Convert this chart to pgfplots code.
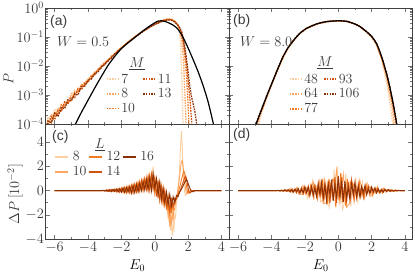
\documentclass[border=0pt]{standalone}
\usepackage{fontspec}
\usepackage{pgfplots}
\pgfplotsset{compat=1.18}
\newfontfamily\hv{Liberation Sans}
\definecolor{c1}{HTML}{FDCFA0}
\definecolor{c2}{HTML}{FDA662}
\definecolor{c3}{HTML}{F47A22}
\definecolor{c4}{HTML}{D0520C}
\definecolor{c5}{HTML}{8A3006}
\definecolor{txt}{HTML}{3A3A3A}
\pgfplotsset{
  panel/.style={scale only axis, width=183.5bp, xmin=-6.55, xmax=4.45,
    axis line style={black!75, line width=0.6pt},
    tick style={black!55, line width=0.5pt},
    tick align=inside, major tick length=4bp, minor tick length=2bp,
    xtick={-6,-4,-2,0,2,4}, minor xtick={-5,-3,-1,1,3},
    tick label style={text=txt},
    yticklabel style={inner xsep=1.5bp},
    legend cell align=left,
  },
  toppanel/.style={panel, height=116bp, ymin=-4, ymax=0, ytick={-4,-3,-2,-1,0},
    minor ytick={-3.699,-3.523,-3.398,-3.301,-3.222,-3.155,-3.097,-3.046,
                 -2.699,-2.523,-2.398,-2.301,-2.222,-2.155,-2.097,-2.046,
                 -1.699,-1.523,-1.398,-1.301,-1.222,-1.155,-1.097,-1.046,
                 -0.699,-0.523,-0.398,-0.301,-0.222,-0.155,-0.097,-0.046},
    xticklabels={}},
  botpanel/.style={panel, height=115bp, ymin=-4, ymax=5.5, ytick={-4,-2,0,2,4},
    minor ytick={-3,-1,1,3}, xlabel={$E_0$}},
  oline/.style={line width=1.3pt, dash pattern=on 1.6bp off 1.1bp},
  sline/.style={line width=0.9pt},
}
\begin{document}
\begin{tikzpicture}[font=\fontsize{14}{17}\selectfont]
% ---------------- (a)
\begin{axis}[toppanel, at={(45.5bp,-8bp)}, anchor=north west,
  yticklabels={$10^{-4}$,$10^{-3}$,$10^{-2}$,$10^{-1}$,$10^{0}$},
  legend columns=2,
  legend style={at={(axis cs:-3.11,-2.12)}, anchor=north west, draw=none, fill=none,
    inner xsep=3pt, inner ysep=2pt, nodes={inner xsep=1bp, text=txt},
    /tikz/every even column/.append style={column sep=6.5bp}},
  legend image code/.code={\draw[#1] (0bp,0bp) -- (11bp,0bp); \path (13bp,0bp);},
]
\addplot[c1, oline, forget plot] coordinates {(-6.5,-4.1)(-6.4,-3.75)(-6.2,-3.87)(-6.0,-3.49)(-5.8,-3.57)(-5.6,-3.35)(-5.4,-3.42)(-5.2,-3.08)(-5.0,-3.07)(-4.8,-2.82)(-4.6,-2.9)(-4.4,-2.64)(-4.2,-2.61)(-4.0,-2.41)(-3.8,-2.38)(-3.6,-2.19)(-3.4,-2.17)(-3.2,-1.98)(-3.0,-1.86)(-2.8,-1.81)(-2.6,-1.64)(-2.4,-1.59)(-2.2,-1.44)(-2.0,-1.37)(-1.8,-1.27)(-1.6,-1.17)(-1.4,-1.08)(-1.2,-0.99)(-1.0,-0.91)(-0.8,-0.83)(-0.6,-0.75)(-0.4,-0.68)(-0.2,-0.6)(0,-0.54)(0.2,-0.48)(0.4,-0.43)(0.6,-0.39)(0.8,-0.37)(1.0,-0.38)(1.2,-0.45)(1.4,-0.6)(1.5,-0.9)(1.55,-1.3)(1.6,-2.0)(1.65,-3.0)(1.7,-4.3)};
\addplot[c2, oline, forget plot] coordinates {(-6.5,-4.2)(-6.4,-4.02)(-6.2,-3.67)(-6.0,-3.75)(-5.8,-3.45)(-5.6,-3.55)(-5.4,-3.25)(-5.2,-3.29)(-5.0,-2.95)(-4.8,-3.01)(-4.6,-2.76)(-4.4,-2.79)(-4.2,-2.54)(-4.0,-2.52)(-3.8,-2.32)(-3.6,-2.29)(-3.4,-2.1)(-3.2,-2.04)(-3.0,-1.87)(-2.8,-1.81)(-2.6,-1.66)(-2.4,-1.6)(-2.2,-1.46)(-2.0,-1.37)(-1.8,-1.27)(-1.6,-1.17)(-1.4,-1.09)(-1.2,-0.99)(-1.0,-0.92)(-0.8,-0.83)(-0.6,-0.76)(-0.4,-0.68)(-0.2,-0.61)(0,-0.55)(0.2,-0.49)(0.4,-0.44)(0.6,-0.4)(0.8,-0.38)(1.0,-0.39)(1.2,-0.46)(1.4,-0.6)(1.5,-0.75)(1.6,-1.05)(1.7,-1.6)(1.75,-2.2)(1.8,-2.9)(1.85,-3.6)(1.9,-4.3)};
\addplot[c3, oline, forget plot] coordinates {(-6.5,-4.1)(-6.4,-3.88)(-6.2,-3.97)(-6.0,-3.61)(-5.8,-3.68)(-5.6,-3.33)(-5.4,-3.41)(-5.2,-3.19)(-5.0,-3.22)(-4.8,-2.9)(-4.6,-2.91)(-4.4,-2.64)(-4.2,-2.67)(-4.0,-2.47)(-3.8,-2.43)(-3.6,-2.22)(-3.4,-2.17)(-3.2,-1.99)(-3.0,-1.94)(-2.8,-1.78)(-2.6,-1.72)(-2.4,-1.57)(-2.2,-1.49)(-2.0,-1.38)(-1.8,-1.28)(-1.6,-1.18)(-1.4,-1.09)(-1.2,-1.0)(-1.0,-0.92)(-0.8,-0.84)(-0.6,-0.76)(-0.4,-0.69)(-0.2,-0.62)(0,-0.56)(0.2,-0.5)(0.4,-0.45)(0.6,-0.41)(0.8,-0.39)(1.0,-0.4)(1.2,-0.47)(1.4,-0.6)(1.5,-0.72)(1.6,-0.9)(1.7,-1.2)(1.8,-1.65)(1.9,-2.3)(1.95,-2.8)(2.0,-3.4)(2.05,-4.0)(2.1,-4.5)};
\addplot[c4, oline, forget plot] coordinates {(-6.5,-4.3)(-6.4,-4.05)(-6.2,-3.75)(-6.0,-3.85)(-5.8,-3.54)(-5.6,-3.57)(-5.4,-3.24)(-5.2,-3.31)(-5.0,-3.07)(-4.8,-3.1)(-4.6,-2.79)(-4.4,-2.82)(-4.2,-2.6)(-4.0,-2.57)(-3.8,-2.35)(-3.6,-2.31)(-3.4,-2.12)(-3.2,-2.07)(-3.0,-1.9)(-2.8,-1.84)(-2.6,-1.68)(-2.4,-1.6)(-2.2,-1.47)(-2.0,-1.38)(-1.8,-1.28)(-1.6,-1.18)(-1.4,-1.09)(-1.2,-1.0)(-1.0,-0.92)(-0.8,-0.84)(-0.6,-0.76)(-0.4,-0.69)(-0.2,-0.62)(0,-0.56)(0.2,-0.51)(0.4,-0.46)(0.6,-0.42)(0.8,-0.4)(1.0,-0.41)(1.2,-0.47)(1.4,-0.6)(1.5,-0.7)(1.6,-0.85)(1.7,-1.1)(1.8,-1.45)(1.9,-1.9)(2.0,-2.5)(2.1,-3.1)(2.2,-3.8)(2.25,-4.3)};
\addplot[c5, oline, forget plot] coordinates {(-6.5,-4.2)(-6.4,-3.9)(-6.2,-3.95)(-6.0,-3.63)(-5.8,-3.74)(-5.6,-3.43)(-5.4,-3.47)(-5.2,-3.16)(-5.0,-3.19)(-4.8,-2.96)(-4.6,-3.0)(-4.4,-2.71)(-4.2,-2.7)(-4.0,-2.49)(-3.8,-2.45)(-3.6,-2.26)(-3.4,-2.21)(-3.2,-2.02)(-3.0,-1.96)(-2.8,-1.8)(-2.6,-1.73)(-2.4,-1.58)(-2.2,-1.5)(-2.0,-1.39)(-1.8,-1.29)(-1.6,-1.19)(-1.4,-1.1)(-1.2,-1.01)(-1.0,-0.93)(-0.8,-0.85)(-0.6,-0.77)(-0.4,-0.7)(-0.2,-0.63)(0,-0.57)(0.2,-0.52)(0.4,-0.47)(0.6,-0.43)(0.8,-0.41)(1.0,-0.42)(1.2,-0.48)(1.4,-0.6)(1.5,-0.68)(1.6,-0.8)(1.7,-1.0)(1.8,-1.35)(1.9,-1.75)(2.0,-2.2)(2.1,-2.7)(2.2,-3.05)(2.3,-3.3)(2.4,-3.55)(2.5,-3.95)(2.55,-4.2)};
\addplot[black, line width=1.2pt, smooth, forget plot] coordinates {(-5.0,-4.3)(-4.75,-4.0)(-4.4,-3.6)(-4.0,-3.18)(-3.6,-2.76)(-3.2,-2.36)(-2.8,-1.98)(-2.4,-1.67)(-2.0,-1.40)(-1.6,-1.2)(-1.2,-1.02)(-0.8,-0.83)(-0.4,-0.66)(0.0,-0.51)(0.2,-0.45)(0.4,-0.44)(0.7,-0.48)(1.1,-0.59)(1.4,-0.74)(1.7,-1.02)(2.0,-1.38)(2.3,-1.78)(2.6,-2.2)(2.9,-2.68)(3.2,-3.24)(3.5,-3.96)(3.6,-4.2)};
\addlegendimage{c1, oline}\addlegendentry{7}
\addlegendimage{c4, oline}\addlegendentry{11}
\addlegendimage{c2, oline}\addlegendentry{8}
\addlegendimage{c5, oline}\addlegendentry{13}
\addlegendimage{c3, oline}\addlegendentry{10}
\end{axis}
% ---------------- (b)
\begin{axis}[toppanel, at={(229bp,-8bp)}, anchor=north west,
  yticklabels={},
  legend columns=2,
  legend style={at={(axis cs:-3.14,-2.12)}, anchor=north west, draw=none, fill=none,
    inner xsep=3pt, inner ysep=2pt, nodes={inner xsep=1bp, text=txt},
    /tikz/every even column/.append style={column sep=4.5bp}},
  legend image code/.code={\draw[#1] (0bp,0bp) -- (11bp,0bp); \path (13bp,0bp);},
]
\addplot[c1, oline, forget plot] coordinates {(-4.8,-4.3)(-4.75,-3.98)(-4.6,-3.62)(-4.4,-3.28)(-4.2,-2.97)(-4.0,-2.66)(-3.8,-2.37)(-3.6,-2.1)(-3.3,-1.71)(-3.0,-1.38)(-2.6,-1.07)(-2.3,-0.88)(-1.9,-0.7)(-1.3,-0.55)(-0.7,-0.47)(0,-0.44)(0.5,-0.46)(1.0,-0.55)(1.3,-0.64)(1.7,-0.83)(2.0,-1.0)(2.3,-1.28)(2.6,-1.8)(2.8,-2.3)(2.95,-2.72)(3.05,-3.1)(3.15,-3.52)(3.25,-3.9)(3.3,-4.3)};
\addplot[c2, oline, forget plot] coordinates {(-4.9,-4.3)(-4.85,-4.05)(-4.7,-3.72)(-4.5,-3.38)(-4.3,-3.1)(-4.1,-2.78)(-3.9,-2.5)(-3.6,-2.08)(-3.3,-1.68)(-3.0,-1.37)(-2.6,-1.06)(-2.3,-0.87)(-1.9,-0.7)(-1.3,-0.55)(-0.7,-0.47)(0,-0.44)(0.5,-0.46)(1.0,-0.55)(1.3,-0.64)(1.7,-0.82)(2.0,-0.99)(2.3,-1.26)(2.6,-1.74)(2.9,-2.4)(3.05,-2.85)(3.2,-3.3)(3.3,-3.72)(3.38,-4.3)};
\addplot[c3, oline, forget plot] coordinates {(-4.95,-4.3)(-4.9,-4.02)(-4.7,-3.66)(-4.5,-3.42)(-4.3,-3.02)(-4.0,-2.64)(-3.6,-2.07)(-3.3,-1.67)(-3.0,-1.36)(-2.6,-1.06)(-2.3,-0.87)(-1.9,-0.7)(-1.3,-0.55)(-0.7,-0.47)(0,-0.44)(0.5,-0.46)(1.0,-0.55)(1.3,-0.64)(1.7,-0.82)(2.0,-0.98)(2.3,-1.24)(2.6,-1.71)(2.9,-2.32)(3.1,-2.85)(3.25,-3.3)(3.35,-3.62)(3.45,-4.0)(3.5,-4.3)};
\addplot[c4, oline, forget plot] coordinates {(-5.0,-4.3)(-4.95,-4.1)(-4.8,-3.8)(-4.6,-3.55)(-4.3,-3.05)(-4.0,-2.62)(-3.6,-2.06)(-3.3,-1.67)(-3.0,-1.36)(-2.6,-1.06)(-2.3,-0.87)(-1.9,-0.7)(-1.3,-0.55)(-0.7,-0.47)(0,-0.44)(0.5,-0.46)(1.0,-0.55)(1.3,-0.64)(1.7,-0.82)(2.0,-0.98)(2.3,-1.23)(2.6,-1.69)(2.9,-2.28)(3.1,-2.78)(3.3,-3.35)(3.45,-3.8)(3.52,-4.3)};
\addplot[c5, oline, forget plot] coordinates {(-5.05,-4.3)(-5.0,-4.15)(-4.85,-3.85)(-4.6,-3.48)(-4.3,-3.06)(-4.0,-2.63)(-3.6,-2.06)(-3.3,-1.67)(-3.0,-1.36)(-2.6,-1.06)(-2.3,-0.87)(-1.9,-0.7)(-1.3,-0.55)(-0.7,-0.47)(0,-0.44)(0.5,-0.46)(1.0,-0.55)(1.3,-0.64)(1.7,-0.82)(2.0,-0.98)(2.3,-1.23)(2.6,-1.68)(2.9,-2.27)(3.1,-2.75)(3.3,-3.32)(3.5,-3.98)(3.56,-4.3)};
\addplot[black, line width=1.2pt, smooth, forget plot] coordinates {(-5.0,-4.15)(-4.9,-3.97)(-4.6,-3.5)(-4.3,-3.05)(-4.0,-2.62)(-3.6,-2.06)(-3.3,-1.67)(-3.0,-1.36)(-2.6,-1.06)(-2.3,-0.87)(-1.9,-0.7)(-1.3,-0.55)(-0.7,-0.47)(0.0,-0.44)(0.5,-0.46)(1.0,-0.55)(1.3,-0.64)(1.7,-0.82)(2.0,-0.98)(2.3,-1.23)(2.6,-1.68)(2.9,-2.27)(3.1,-2.75)(3.3,-3.32)(3.5,-3.98)(3.55,-4.2)};
\addlegendimage{c1, oline}\addlegendentry{48}
\addlegendimage{c4, oline}\addlegendentry{93}
\addlegendimage{c2, oline}\addlegendentry{64}
\addlegendimage{c5, oline}\addlegendentry{106}
\addlegendimage{c3, oline}\addlegendentry{77}
\end{axis}
% ---------------- (c)
\begin{axis}[botpanel, at={(45.5bp,-124bp)}, anchor=north west,
  yticklabels={$-4$,$-2$,$0$,$2$,$4$},
  legend columns=3,
  legend style={at={(axis cs:-6.22,3.57)}, anchor=north west, draw=none, fill=none,
    inner xsep=3pt, inner ysep=2pt, nodes={inner xsep=1bp, text=txt},
    /tikz/every even column/.append style={column sep=0.5bp}},
  legend image code/.code={\draw[#1] (0bp,0bp) -- (13bp,0bp); \path (16bp,0bp);},
]
\addplot[c1, sline, forget plot] coordinates {(-6.0,0)(-3.0,0)(-2.9,0.05)(-2.8,-0.06)(-2.7,0.1)(-2.6,-0.05)(-2.5,0.12)(-2.4,-0.1)(-2.3,0.15)(-2.2,-0.08)(-2.1,0.2)(-2.0,-0.12)(-1.9,0.25)(-1.8,-0.1)(-1.7,0.3)(-1.6,-0.2)(-1.5,0.4)(-1.4,-0.15)(-1.3,0.5)(-1.2,-0.1)(-1.1,0.6)(-1.0,0.0)(-0.9,0.8)(-0.8,0.1)(-0.7,0.9)(-0.6,0.2)(-0.5,1.1)(-0.4,0.1)(-0.3,1.3)(-0.2,0.3)(-0.1,2.0)(0.0,-0.3)(0.1,1.2)(0.2,-0.5)(0.3,0.8)(0.4,-0.9)(0.5,0.3)(0.6,-1.4)(0.7,-0.2)(0.75,-1.8)(0.8,-1.0)(0.85,-2.6)(0.9,-1.8)(0.95,-3.3)(1.0,-2.6)(1.05,-3.7)(1.1,-2.8)(1.15,-3.2)(1.2,-2.0)(1.25,-2.2)(1.3,-1.0)(1.35,-0.6)(1.4,0.2)(1.45,1.0)(1.5,2.2)(1.55,3.8)(1.6,4.9)(1.65,3.6)(1.7,1.6)(1.75,0.4)(1.8,-0.2)(1.85,-0.4)(1.9,-0.3)(2.0,-0.1)(2.1,0)(4.0,0)};
\addplot[c2, sline, forget plot] coordinates {(-6.0,0)(-3.0,0)(-2.9,-0.04)(-2.8,0.08)(-2.7,-0.05)(-2.6,0.1)(-2.5,-0.08)(-2.4,0.12)(-2.3,-0.1)(-2.2,0.16)(-2.1,-0.08)(-2.0,0.22)(-1.9,-0.15)(-1.8,0.28)(-1.7,-0.1)(-1.6,0.35)(-1.5,-0.2)(-1.4,0.45)(-1.3,-0.15)(-1.2,0.55)(-1.1,-0.1)(-1.0,0.7)(-0.9,0.0)(-0.8,0.85)(-0.7,0.1)(-0.6,1.0)(-0.5,0.2)(-0.4,1.2)(-0.3,0.1)(-0.2,1.4)(-0.1,0.2)(0.0,1.1)(0.1,-0.4)(0.2,0.9)(0.3,-0.7)(0.4,0.4)(0.5,-1.1)(0.6,0.0)(0.7,-1.6)(0.75,-0.8)(0.8,-2.3)(0.85,-1.5)(0.9,-3.0)(0.95,-2.0)(1.0,-2.8)(1.05,-1.9)(1.1,-2.4)(1.15,-1.5)(1.2,-1.6)(1.25,-0.9)(1.3,-0.7)(1.35,-0.2)(1.4,0.2)(1.45,0.7)(1.5,1.3)(1.55,1.9)(1.6,2.4)(1.65,2.5)(1.7,2.0)(1.75,1.3)(1.8,0.6)(1.85,0.1)(1.9,-0.2)(1.95,-0.25)(2.0,-0.15)(2.1,0)(4.0,0)};
\addplot[c3, sline, forget plot] coordinates {(-6.0,0)(-3.0,0)(-2.9,0.04)(-2.8,-0.07)(-2.7,0.06)(-2.6,-0.1)(-2.5,0.1)(-2.4,-0.06)(-2.3,0.14)(-2.2,-0.12)(-2.1,0.18)(-2.0,-0.1)(-1.9,0.25)(-1.8,-0.18)(-1.7,0.3)(-1.6,-0.12)(-1.5,0.38)(-1.4,-0.2)(-1.3,0.5)(-1.2,-0.15)(-1.1,0.6)(-1.0,-0.05)(-0.9,0.75)(-0.8,0.05)(-0.7,0.9)(-0.6,0.15)(-0.5,1.05)(-0.4,0.0)(-0.3,1.25)(-0.2,0.2)(-0.1,1.3)(0.0,-0.2)(0.1,1.0)(0.2,-0.6)(0.3,0.6)(0.4,-0.9)(0.5,0.2)(0.6,-1.2)(0.7,-0.3)(0.8,-1.7)(0.85,-0.8)(0.9,-2.1)(0.95,-1.2)(1.0,-1.9)(1.05,-1.0)(1.1,-1.6)(1.2,-1.0)(1.3,-0.6)(1.4,-0.2)(1.5,0.3)(1.6,0.9)(1.7,1.4)(1.75,1.6)(1.8,1.4)(1.85,0.9)(1.9,0.4)(1.95,0.0)(2.0,-0.2)(2.1,-0.15)(2.2,0)(4.0,0)};
\addplot[c4, sline, forget plot] coordinates {(-6.0,0)(-3.0,0)(-2.9,-0.05)(-2.8,0.06)(-2.7,-0.08)(-2.6,0.09)(-2.5,-0.06)(-2.4,0.12)(-2.3,-0.1)(-2.2,0.15)(-2.1,-0.14)(-2.0,0.2)(-1.9,-0.12)(-1.8,0.26)(-1.7,-0.2)(-1.6,0.32)(-1.5,-0.15)(-1.4,0.42)(-1.3,-0.2)(-1.2,0.5)(-1.1,-0.1)(-1.0,0.62)(-0.9,-0.05)(-0.8,0.8)(-0.7,0.0)(-0.6,0.95)(-0.5,0.1)(-0.4,1.15)(-0.3,0.05)(-0.2,1.3)(-0.1,0.1)(0.0,1.0)(0.1,-0.5)(0.2,0.8)(0.3,-0.8)(0.4,0.3)(0.5,-1.0)(0.6,0.0)(0.7,-1.3)(0.8,-0.4)(0.9,-1.6)(1.0,-0.7)(1.1,-1.3)(1.2,-0.6)(1.3,-0.7)(1.4,-0.3)(1.5,-0.1)(1.6,0.3)(1.7,0.7)(1.8,1.1)(1.85,1.2)(1.9,1.0)(1.95,0.6)(2.0,0.2)(2.05,-0.1)(2.1,-0.2)(2.2,-0.1)(2.3,0)(4.0,0)};
\addplot[c5, sline, forget plot] coordinates {(-6.0,0)(-3.2,0)(-3.1,0.03)(-3.0,-0.04)(-2.9,0.05)(-2.8,-0.06)(-2.7,0.07)(-2.6,-0.08)(-2.5,0.09)(-2.4,-0.07)(-2.3,0.12)(-2.2,-0.1)(-2.1,0.15)(-2.0,-0.13)(-1.9,0.2)(-1.8,-0.15)(-1.7,0.25)(-1.6,-0.1)(-1.5,0.3)(-1.4,-0.2)(-1.3,0.4)(-1.2,-0.15)(-1.1,0.5)(-1.0,-0.1)(-0.9,0.6)(-0.8,0.0)(-0.7,0.75)(-0.6,0.05)(-0.5,0.9)(-0.4,0.1)(-0.3,1.1)(-0.2,0.0)(-0.1,1.4)(0.0,0.2)(0.1,1.0)(0.2,-0.4)(0.3,0.7)(0.4,-0.7)(0.5,0.2)(0.6,-1.0)(0.7,-0.1)(0.8,-1.2)(0.9,-0.3)(1.0,-1.3)(1.1,-0.5)(1.2,-1.0)(1.3,-0.4)(1.4,-0.5)(1.5,-0.1)(1.6,0.1)(1.7,0.4)(1.8,0.7)(1.9,0.9)(1.95,0.8)(2.0,0.6)(2.1,0.2)(2.2,-0.05)(2.3,-0.1)(2.4,0)(4.0,0)};
\addlegendimage{c1, sline, line width=1.6pt}\addlegendentry{8}
\addlegendimage{c3, sline, line width=1.6pt}\addlegendentry{12}
\addlegendimage{c5, sline, line width=1.6pt}\addlegendentry{16}
\addlegendimage{c2, sline, line width=1.6pt}\addlegendentry{10}
\addlegendimage{c4, sline, line width=1.6pt}\addlegendentry{14}
\end{axis}
% ---------------- (d)
\begin{axis}[botpanel, at={(229bp,-124bp)}, anchor=north west, yticklabels={}]
\addplot[c1, sline] coordinates {(-6,0)(-3.65,0)(-3.55,-0.03)(-3.45,0.05)(-3.35,-0.02)(-3.25,0.05)(-3.15,-0.1)(-3.05,0.05)(-2.95,-0.07)(-2.85,0.18)(-2.75,-0.17)(-2.65,0.05)(-2.55,-0.16)(-2.45,0.24)(-2.35,-0.3)(-2.25,-0.26)(-2.15,0.38)(-2.05,-0.14)(-1.95,0.3)(-1.85,-0.56)(-1.75,0.25)(-1.65,-0.34)(-1.55,0.75)(-1.45,-0.65)(-1.35,0.17)(-1.25,-0.56)(-1.15,0.8)(-1.05,-0.97)(-0.95,-0.81)(-0.85,1.12)(-0.75,-0.4)(-0.65,0.84)(-0.55,-1.48)(-0.45,0.62)(-0.35,-0.82)(-0.25,1.72)(-0.15,-1.44)(-0.05,2.0)(0.05,-1.13)(0.15,1.44)(0.25,-1.55)(0.35,-1.15)(0.45,1.4)(0.55,-0.44)(0.65,0.84)(0.75,-1.32)(0.85,0.5)(0.95,-0.58)(1.05,1.08)(1.15,-0.8)(1.25,0.19)(1.35,-0.52)(1.45,0.65)(1.55,-0.68)(1.65,-0.48)(1.75,0.56)(1.85,-0.17)(1.95,0.3)(2.05,-0.46)(2.15,0.17)(2.25,-0.19)(2.35,0.34)(2.45,-0.24)(2.55,0.05)(2.65,-0.14)(2.75,0.17)(2.85,-0.16)(2.95,-0.1)(3.05,0.11)(3.15,-0.03)(3.25,0.05)(3.35,-0.07)(3.45,0.02)(3.55,-0.02)(3.65,0)(4,0)};
\addplot[c2, sline] coordinates {(-6,0)(-3.7,0)(-3.5,-0.03)(-3.3,0.04)(-3.1,-0.03)(-2.9,0.15)(-2.7,-0.12)(-2.5,0.23)(-2.3,-0.32)(-2.1,-0.32)(-1.9,0.24)(-1.7,-0.18)(-1.5,0.71)(-1.3,-0.49)(-1.1,0.85)(-0.9,-1.09)(-0.7,-0.99)(-0.5,0.69)(-0.3,-0.46)(-0.1,1.67)(0.1,-1.0)(0.3,1.37)(0.5,-1.38)(0.7,-0.99)(0.9,0.54)(1.1,-0.28)(1.3,0.81)(1.5,-0.43)(1.7,0.54)(1.9,-0.48)(2.1,-0.32)(2.3,0.16)(2.5,-0.08)(2.7,0.2)(2.9,-0.09)(3.1,0.09)(3.3,-0.07)(3.5,-0.03)(3.7,0)(4,0)};
\addplot[c3, sline] coordinates {(-6,0)(-3.65,0)(-3.55,0.02)(-3.45,-0.04)(-3.35,0.02)(-3.25,-0.04)(-3.15,0.08)(-3.05,-0.07)(-2.95,0.02)(-2.85,-0.14)(-2.75,0.14)(-2.65,-0.06)(-2.55,0.15)(-2.45,0.15)(-2.35,-0.25)(-2.25,0.12)(-2.15,-0.17)(-2.05,0.38)(-1.95,-0.29)(-1.85,0.09)(-1.75,-0.51)(-1.65,0.45)(-1.55,-0.18)(-1.45,0.46)(-1.35,0.42)(-1.25,-0.68)(-1.15,0.33)(-1.05,-0.44)(-0.95,0.94)(-0.85,-0.71)(-0.75,0.21)(-0.65,-1.14)(-0.55,0.96)(-0.45,-0.38)(-0.35,0.93)(-0.25,0.84)(-0.15,-1.32)(-0.05,0.61)(0.05,-0.76)(0.15,1.46)(0.25,-0.98)(0.35,0.27)(0.45,-1.27)(0.55,0.96)(0.65,-0.34)(0.75,0.75)(0.85,0.6)(0.95,-0.85)(1.05,0.35)(1.15,-0.41)(1.25,0.75)(1.35,-0.49)(1.45,0.13)(1.55,-0.61)(1.65,0.45)(1.75,-0.15)(1.85,0.32)(1.95,0.25)(2.05,-0.34)(2.15,0.14)(2.25,-0.15)(2.35,0.27)(2.45,-0.17)(2.55,0.04)(2.65,-0.2)(2.75,0.14)(2.85,-0.04)(2.95,0.08)(3.05,0.06)(3.15,-0.08)(3.25,0.03)(3.35,-0.03)(3.45,0.05)(3.55,-0.02)(3.65,0)(4,0)};
\addplot[c4, sline] coordinates {(-6,0)(-3.7,0)(-3.6,0.01)(-3.5,-0.03)(-3.4,0.03)(-3.3,-0.03)(-3.2,0.07)(-3.1,-0.05)(-3.0,0.03)(-2.9,-0.1)(-2.8,0.11)(-2.7,-0.06)(-2.6,0.11)(-2.5,-0.2)(-2.4,0.11)(-2.3,-0.17)(-2.2,0.25)(-2.1,-0.25)(-2.0,0.2)(-1.9,-0.11)(-1.8,0.37)(-1.7,-0.32)(-1.6,0.2)(-1.5,-0.54)(-1.4,0.4)(-1.3,-0.31)(-1.2,0.66)(-1.1,-0.43)(-1.0,0.23)(-0.9,-0.74)(-0.8,0.7)(-0.7,-0.37)(-0.6,0.59)(-0.5,-1.05)(-0.4,0.55)(-0.3,-0.81)(-0.2,1.09)(-0.1,-1.01)(0,0.79)(0.1,-0.38)(0.2,1.09)(0.3,-0.81)(0.4,0.44)(0.5,-1.05)(0.6,0.69)(0.7,-0.47)(0.8,0.88)(0.9,-0.5)(1.0,0.23)(1.1,-0.64)(1.2,0.53)(1.3,-0.25)(1.4,0.34)(1.5,-0.54)(1.6,0.25)(1.7,-0.32)(1.8,0.37)(1.9,-0.29)(2.0,0.2)(2.1,-0.09)(2.2,0.25)(2.3,-0.17)(2.4,0.09)(2.5,-0.2)(2.6,0.12)(2.7,-0.08)(2.8,0.13)(2.9,-0.07)(3.0,0.03)(3.1,-0.07)(3.2,0.05)(3.3,-0.02)(3.4,0.03)(3.5,-0.03)(3.6,0.01)(3.7,0)(4,0)};
\addplot[c5, sline] coordinates {(-6,0)(-3.7,0)(-3.6,0.02)(-3.5,-0.02)(-3.4,0.01)(-3.3,-0.05)(-3.2,0.04)(-3.1,-0.03)(-3.0,0.08)(-2.9,-0.07)(-2.8,0.06)(-2.7,-0.14)(-2.6,0.1)(-2.5,-0.05)(-2.4,0.18)(-2.3,-0.18)(-2.2,0.1)(-2.1,-0.17)(-2.0,0.3)(-1.9,-0.17)(-1.8,0.26)(-1.7,-0.37)(-1.6,0.36)(-1.5,-0.29)(-1.4,0.16)(-1.3,-0.5)(-1.2,0.42)(-1.1,-0.26)(-1.0,0.7)(-0.9,-0.53)(-0.8,0.4)(-0.7,-0.85)(-0.6,0.54)(-0.5,-0.29)(-0.4,0.9)(-0.3,-0.84)(-0.2,0.44)(-0.1,-0.69)(0,1.2)(0.1,-0.58)(0.2,0.77)(0.3,-0.95)(0.4,0.8)(0.5,-0.57)(0.6,0.27)(0.7,-0.77)(0.8,0.56)(0.9,-0.3)(1.0,0.7)(1.1,-0.46)(1.2,0.3)(1.3,-0.56)(1.4,0.31)(1.5,-0.15)(1.6,0.41)(1.7,-0.33)(1.8,0.15)(1.9,-0.2)(2.0,0.3)(2.1,-0.14)(2.2,0.18)(2.3,-0.2)(2.4,0.16)(2.5,-0.11)(2.6,0.05)(2.7,-0.13)(2.8,0.08)(2.9,-0.04)(3.0,0.08)(3.1,-0.05)(3.2,0.03)(3.3,-0.05)(3.4,0.02)(3.5,-0.01)(3.6,0.02)(3.7,0)(4,0)};
\end{axis}
% ---------------- annotations
\begin{scope}[every node/.style={inner sep=0pt, text=txt}]
\node[anchor=west] at (50bp,-22bp) {\hv (a)};
\node[anchor=west] at (233bp,-21bp) {\hv (b)};
\node[anchor=west] at (52bp,-137bp) {\hv (c)};
\node[anchor=west] at (233bp,-135bp) {\hv (d)};
\node[anchor=west] at (57bp,-42bp) {$W=0.5$};
\node[anchor=west] at (240bp,-42bp) {$W=8.0$};
\node at (137bp,-64bp) {$\underline{M}$};
\node at (325bp,-63bp) {$\underline{M}$};
\node at (100bp,-145bp) {$\underline{L}$};
\node[rotate=90] at (8.5bp,-79bp) {$P$};
\node[rotate=90] at (15bp,-194bp) {$\Delta P\,[10^{-2}]$};
\end{scope}
\pgfresetboundingbox
\path[use as bounding box] (0bp,0bp) rectangle (415bp,-273bp);
\end{tikzpicture}
\end{document}
